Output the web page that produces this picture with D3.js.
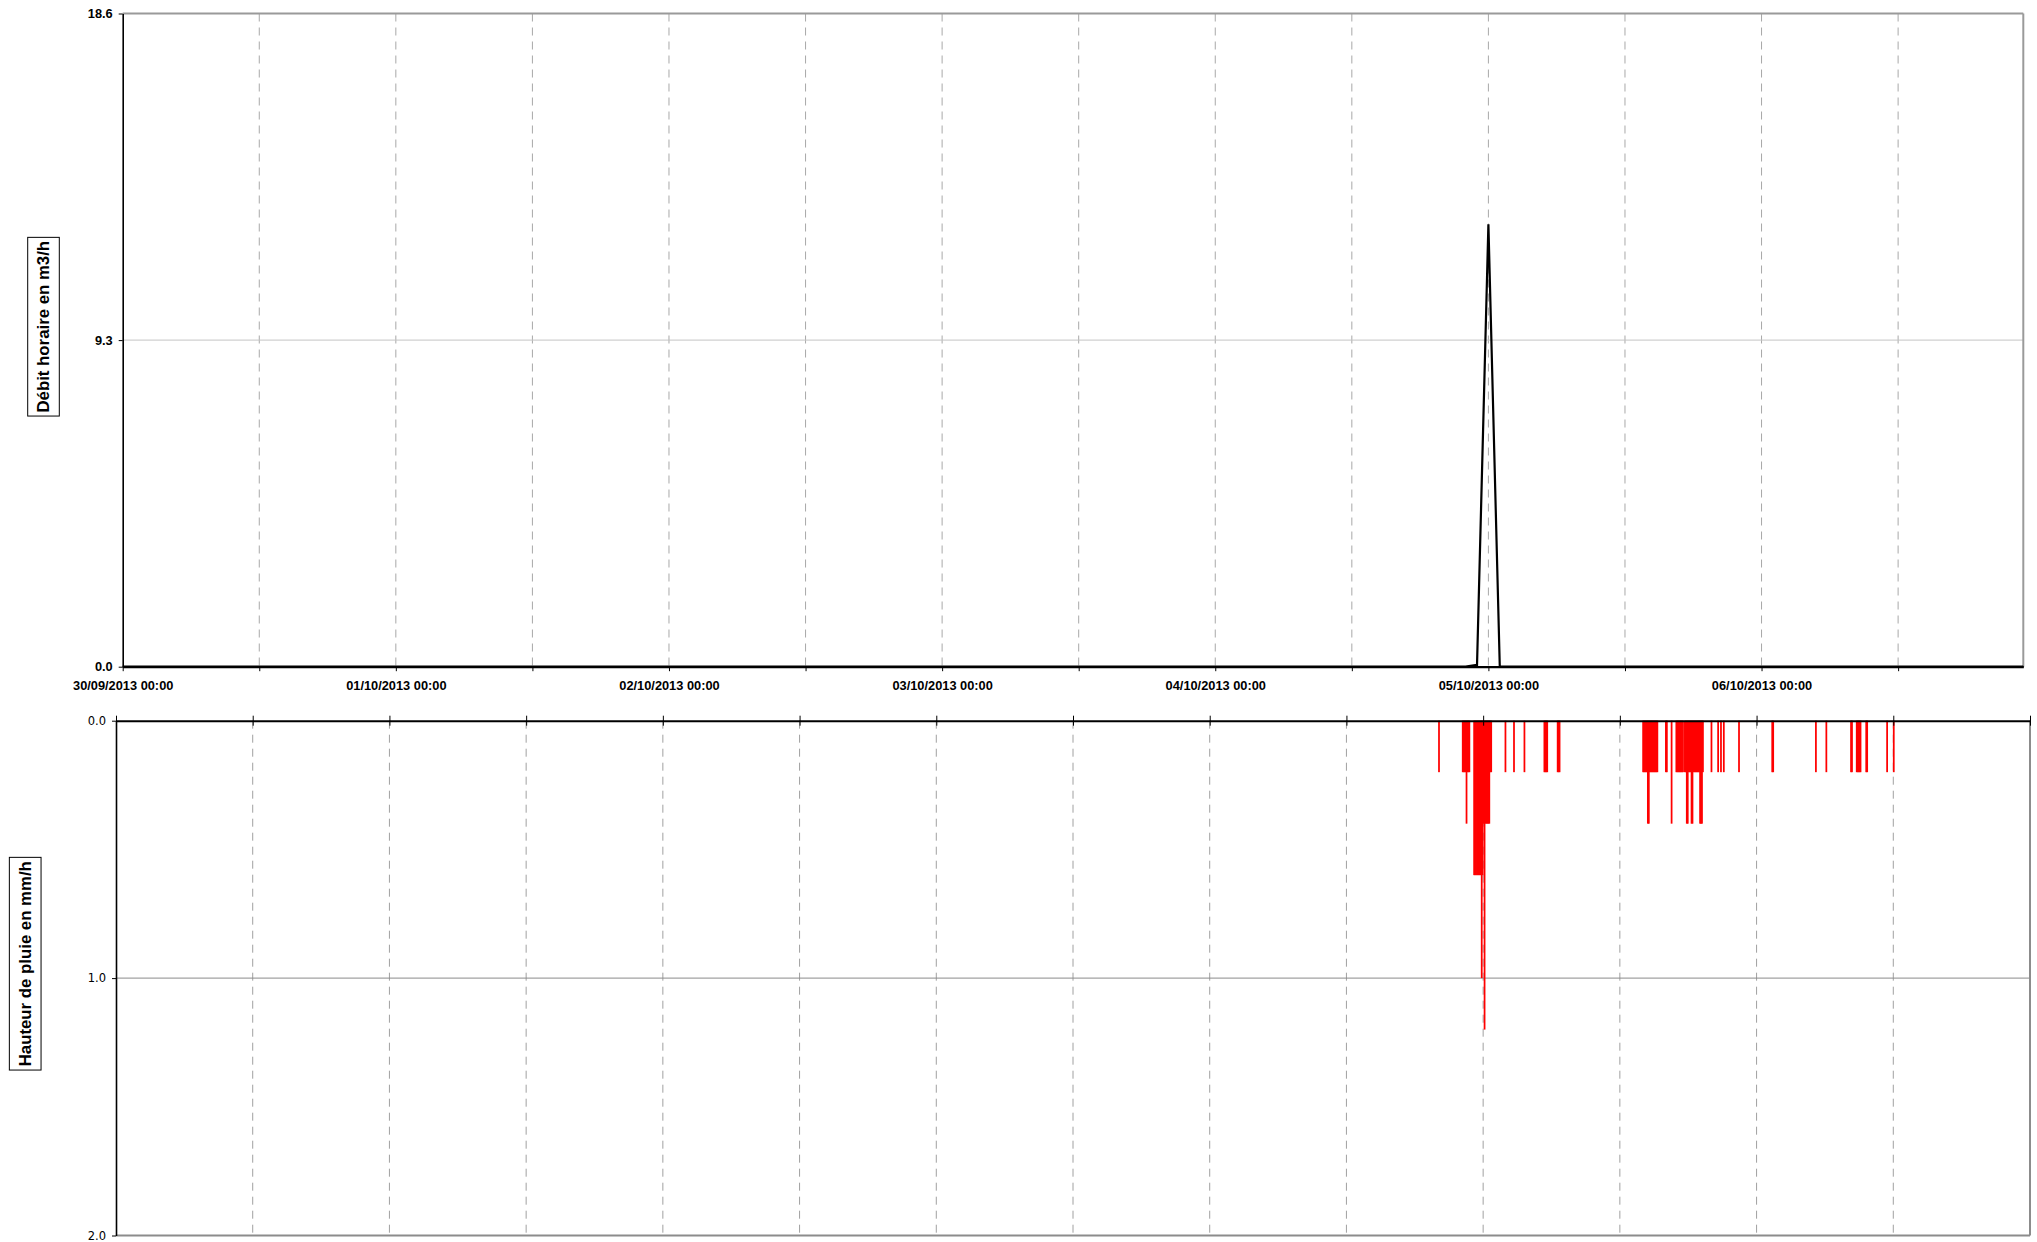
<!DOCTYPE html>
<html><head><meta charset="utf-8">
<script src="https://cdn.jsdelivr.net/npm/d3@7"></script>
<style>
html,body{margin:0;padding:0;background:#fff;}
svg{display:block;}
</style></head><body>
<svg id="chart" width="2037" height="1242"></svg>
<script>
// ---------------- DATA ----------------
const flowTitle = "Débit horaire en m3/h";
const rainTitle = "Hauteur de pluie en mm/h";

const flowTimes = ["30/09/2013 00:00","04/10/2013 22:00","04/10/2013 23:00","05/10/2013 00:00","05/10/2013 01:00","06/10/2013 23:00"];
const flowValues = [0, 0, 0.05, 12.6, 0, 0];

const flowTicks = [0, 9.3, 18.6];
const rainTicks = [0, 1, 2];

const dayLabels = ["30/09/2013 00:00","01/10/2013 00:00","02/10/2013 00:00","03/10/2013 00:00","04/10/2013 00:00","05/10/2013 00:00","06/10/2013 00:00"];

const rainTimes = [
 "04/10/2013 20:05",
 "04/10/2013 22:10","04/10/2013 22:15","04/10/2013 22:20","04/10/2013 22:25","04/10/2013 22:30","04/10/2013 22:35","04/10/2013 22:40","04/10/2013 22:45",
 "04/10/2013 23:10","04/10/2013 23:15","04/10/2013 23:20","04/10/2013 23:25","04/10/2013 23:30","04/10/2013 23:35","04/10/2013 23:40","04/10/2013 23:45",
 "04/10/2013 23:50","04/10/2013 23:55",
 "05/10/2013 00:00","05/10/2013 00:05","05/10/2013 00:10","05/10/2013 00:15","05/10/2013 00:20","05/10/2013 00:25","05/10/2013 00:30",
 "05/10/2013 00:35","05/10/2013 00:40",
 "05/10/2013 01:55","05/10/2013 02:40","05/10/2013 03:35",
 "05/10/2013 05:20","05/10/2013 05:25","05/10/2013 05:30","05/10/2013 05:35",
 "05/10/2013 06:30","05/10/2013 06:35","05/10/2013 06:40",
 "05/10/2013 14:00","05/10/2013 14:05","05/10/2013 14:10","05/10/2013 14:15","05/10/2013 14:20","05/10/2013 14:25","05/10/2013 14:30",
 "05/10/2013 14:35","05/10/2013 14:40","05/10/2013 14:45","05/10/2013 14:50","05/10/2013 14:55","05/10/2013 15:00","05/10/2013 15:05","05/10/2013 15:10","05/10/2013 15:15",
 "05/10/2013 16:00","05/10/2013 16:05","05/10/2013 16:30",
 "05/10/2013 16:55","05/10/2013 17:00","05/10/2013 17:05","05/10/2013 17:10","05/10/2013 17:15","05/10/2013 17:20","05/10/2013 17:25","05/10/2013 17:30",
 "05/10/2013 17:40","05/10/2013 17:45","05/10/2013 17:50","05/10/2013 17:55","05/10/2013 18:00","05/10/2013 18:05","05/10/2013 18:10","05/10/2013 18:15",
 "05/10/2013 18:20","05/10/2013 18:25","05/10/2013 18:30","05/10/2013 18:35","05/10/2013 18:40","05/10/2013 18:45","05/10/2013 18:50","05/10/2013 18:55",
 "05/10/2013 19:00","05/10/2013 19:05","05/10/2013 19:10","05/10/2013 19:15",
 "05/10/2013 20:00","05/10/2013 20:35","05/10/2013 20:50","05/10/2013 21:05","05/10/2013 22:25",
 "06/10/2013 01:20","06/10/2013 01:25","06/10/2013 05:10","06/10/2013 06:05",
 "06/10/2013 08:15","06/10/2013 08:20",
 "06/10/2013 08:45","06/10/2013 08:50","06/10/2013 08:55","06/10/2013 09:00","06/10/2013 09:05",
 "06/10/2013 09:35","06/10/2013 09:40","06/10/2013 11:25","06/10/2013 12:00"
];
const rainValues = [
 0.2,
 0.2,0.2,0.2,0.2,0.4,0.2,0.2,0.2,
 0.6,0.6,0.6,0.6,0.6,0.6,0.6,0.6,
 1.0,0.6,
 0.4,1.2,0.4,0.4,0.4,0.4,0.4,
 0.2,0.2,
 0.2,0.2,0.2,
 0.2,0.2,0.2,0.2,
 0.2,0.2,0.2,
 0.2,0.2,0.2,0.2,0.2,0.4,0.4,
 0.2,0.2,0.2,0.2,0.2,0.2,0.2,0.2,0.2,
 0.2,0.2,0.4,
 0.2,0.2,0.2,0.2,0.2,0.2,0.2,0.2,
 0.2,0.2,0.4,0.4,0.2,0.2,0.2,0.4,
 0.4,0.2,0.2,0.2,0.2,0.2,0.2,0.2,
 0.4,0.4,0.4,0.2,
 0.2,0.2,0.2,0.2,0.2,
 0.2,0.2,0.2,0.2,
 0.2,0.2,
 0.2,0.2,0.2,0.2,0.2,
 0.2,0.2,0.2,0.2
];

// ---------------- LAYOUT ----------------
const parse = d3.utcParse("%d/%m/%Y %H:%M");
const svg = d3.select("#chart");
const FONT = "'Liberation Sans', Arial, sans-serif";

const topBox = {L:122.7, R:2023.3, T:13.5, B:666.7};
const botBox = {L:116, R:2030, T:720.7, B:1235.5};

const t0 = parse("30/09/2013 00:00");
const xTop = d3.scaleUtc().domain([t0, parse("06/10/2013 23:00")]).range([topBox.L, topBox.R]);
const yTop = d3.scaleLinear().domain([0, 18.6]).range([topBox.B, topBox.T]);
const xBot = d3.scaleUtc().domain([t0, parse("07/10/2013 00:00")]).range([botBox.L, botBox.R]);
const yBot = d3.scaleLinear().domain([0, 2]).range([botBox.T, botBox.B]);

const halfDaysTop = d3.utcHour.every(12).range(t0, parse("06/10/2013 23:00"));
const halfDaysBot = d3.utcHour.every(12).range(t0, d3.utcHour.offset(parse("07/10/2013 00:00"), 1));

// ---------- TOP CHART ----------
const gT = svg.append("g");
gT.selectAll("line.vd").data(halfDaysTop.slice(1)).join("line")
  .attr("x1", d => xTop(d)).attr("x2", d => xTop(d))
  .attr("y1", topBox.T).attr("y2", topBox.B)
  .attr("stroke", "#a8a8a8").attr("stroke-width", 1).attr("stroke-dasharray", "8,6");
gT.append("line").attr("x1", topBox.L).attr("x2", topBox.R).attr("y1", yTop(9.3)).attr("y2", yTop(9.3))
  .attr("stroke", "#c4c4c4").attr("stroke-width", 1);
gT.append("line").attr("x1", topBox.L).attr("x2", topBox.R).attr("y1", yTop(18.6)).attr("y2", yTop(18.6))
  .attr("stroke", "#9a9a9a").attr("stroke-width", 2);
gT.append("line").attr("x1", topBox.R).attr("x2", topBox.R).attr("y1", topBox.T).attr("y2", topBox.B)
  .attr("stroke", "#9a9a9a").attr("stroke-width", 2);

const flowData = flowTimes.map((t, i) => ({t: parse(t), v: flowValues[i]}));
gT.append("path").datum(flowData)
  .attr("fill", "none").attr("stroke", "#000").attr("stroke-width", 2.2).attr("stroke-linejoin", "miter")
  .attr("d", d3.line().x(d => xTop(d.t)).y(d => yTop(d.v)));

const dayLabelSet = new Set(dayLabels);
const fmt = d3.utcFormat("%d/%m/%Y %H:%M");
const axTopX = gT.append("g").attr("transform", `translate(0,${topBox.B})`)
  .call(d3.axisBottom(xTop).tickValues(halfDaysTop).tickSize(4.5).tickSizeOuter(0).tickPadding(10)
        .tickFormat(d => dayLabelSet.has(fmt(d)) ? fmt(d) : ""));
axTopX.select(".domain").attr("stroke", "#000").attr("stroke-width", 2.2);
axTopX.selectAll(".tick line").attr("stroke", "#000").attr("stroke-width", 1);
axTopX.selectAll(".tick text").attr("font-family", FONT).attr("font-weight", "bold")
  .attr("font-size", "12.8px").attr("fill", "#000");

const axTopY = gT.append("g").attr("transform", `translate(${topBox.L},0)`)
  .call(d3.axisLeft(yTop).tickValues(flowTicks).tickSize(4).tickSizeOuter(0).tickPadding(6)
        .tickFormat(d3.format(".1f")));
axTopY.select(".domain").attr("stroke", "#000").attr("stroke-width", 1.6);
axTopY.selectAll(".tick line").attr("stroke", "#000");
axTopY.selectAll(".tick text").attr("font-family", FONT).attr("font-weight", "bold")
  .attr("font-size", "12.8px").attr("fill", "#000");

// ---------- BOTTOM CHART ----------
const gB = svg.append("g");
gB.selectAll("line.vd").data(halfDaysBot.slice(1, -1)).join("line")
  .attr("x1", d => xBot(d)).attr("x2", d => xBot(d))
  .attr("y1", botBox.T).attr("y2", botBox.B)
  .attr("stroke", "#a0a0a0").attr("stroke-width", 1).attr("stroke-dasharray", "8,6");
gB.append("line").attr("x1", botBox.L).attr("x2", botBox.R).attr("y1", yBot(1)).attr("y2", yBot(1))
  .attr("stroke", "#8a8a8a").attr("stroke-width", 1);
gB.append("line").attr("x1", botBox.L).attr("x2", botBox.R).attr("y1", yBot(2)).attr("y2", yBot(2))
  .attr("stroke", "#8c8c8c").attr("stroke-width", 2);
gB.append("line").attr("x1", botBox.R).attr("x2", botBox.R).attr("y1", botBox.T).attr("y2", botBox.B)
  .attr("stroke", "#8c8c8c").attr("stroke-width", 2);

// draw shorter bars first so the taller ones stay fully visible
const rainData = rainTimes.map((t, i) => ({t: parse(t), v: rainValues[i]}))
  .sort((a, b) => a.v - b.v);
gB.selectAll("rect.rain").data(rainData).join("rect")
  .attr("x", d => xBot(d.t) - 0.4)
  .attr("width", d => xBot(d3.utcMinute.offset(d.t, 5)) - xBot(d.t) + 0.8)
  .attr("y", yBot(0))
  .attr("height", d => yBot(d.v) - yBot(0))
  .attr("fill", "#ff0000");

const axBotX = gB.append("g").attr("transform", `translate(0,${botBox.T})`)
  .call(d3.axisTop(xBot).tickValues(halfDaysBot).tickSize(5).tickSizeOuter(0).tickFormat(""));
axBotX.selectAll(".tick line").attr("y2", -5).attr("y1", 5).attr("stroke", "#000");
axBotX.select(".domain").attr("stroke", "#000").attr("stroke-width", 2);

const axBotY = gB.append("g").attr("transform", `translate(${botBox.L},0)`)
  .call(d3.axisLeft(yBot).tickValues(rainTicks).tickSize(4).tickSizeOuter(0).tickPadding(6)
        .tickFormat(d3.format(".1f")));
axBotY.select(".domain").attr("stroke", "#000").attr("stroke-width", 1.6);
axBotY.selectAll(".tick line").attr("stroke", "#000");
axBotY.selectAll(".tick text").attr("font-family", "'DejaVu Sans', Verdana, sans-serif")
  .attr("font-size", "11.5px").attr("fill", "#000");

// ---------- AXIS TITLES (boxed, rotated) ----------
function boxedTitle(cx, cy, w, h, label) {
  const g = svg.append("g");
  g.append("rect").attr("x", cx - w/2).attr("y", cy - h/2).attr("width", w).attr("height", h)
    .attr("fill", "#fff").attr("stroke", "#000").attr("stroke-width", 1);
  g.append("text").attr("transform", `translate(${cx},${cy}) rotate(-90)`)
    .attr("text-anchor", "middle").attr("dominant-baseline", "central")
    .attr("font-family", FONT).attr("font-weight", "bold").attr("font-size", "16.8px")
    .attr("fill", "#000").text(label);
}
boxedTitle(43.5, 326.7, 31.6, 178.7, flowTitle);
boxedTitle(25.2, 963.7, 31.7, 212.7, rainTitle);
</script>
</body></html>
